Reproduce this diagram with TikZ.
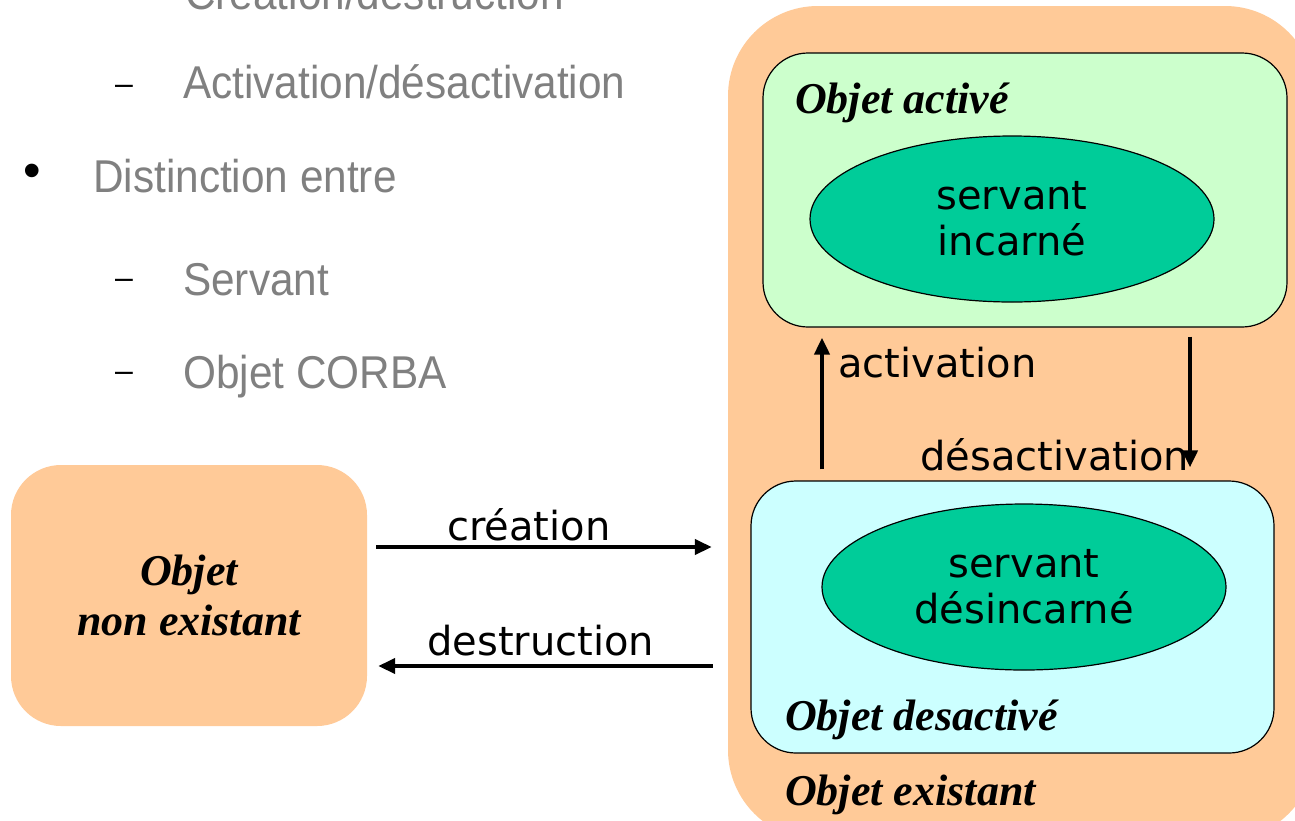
\documentclass[tikz,border=0pt]{standalone}
\usepackage{fontspec}
\newfontfamily\dejavu{DejaVu Sans}
\newfontfamily\grayfont[FakeStretch=0.92]{Liberation Sans}
\newfontfamily\plainsans{Liberation Sans}
\newfontfamily\serifbi{Liberation Serif Bold Italic}
\usetikzlibrary{arrows.meta,calc,shapes.geometric}
\definecolor{orangefill}{HTML}{FFCA98}
\definecolor{greenfill}{HTML}{CCFFCC}
\definecolor{cyanfill}{HTML}{CCFFFF}
\definecolor{tealfill}{HTML}{00CC99}
\definecolor{graytext}{HTML}{808080}
\begin{document}
\begin{tikzpicture}[x=1pt,y=-1pt,
  graytxt/.style={anchor=base west,inner sep=0,text=graytext,font=\grayfont\fontsize{46}{50}\selectfont},
  dashmark/.style={anchor=base west,inner sep=0,font=\plainsans\fontsize{32}{34}\selectfont},
  bulletmark/.style={inner sep=0,font=\plainsans\fontsize{50}{52}\selectfont},
  statebox/.style={draw=black,line width=1.2pt,rounded corners=45,inner sep=0},
  servantell/.style={ellipse,draw=black,line width=1.2pt,fill=tealfill,inner sep=0,align=center,font=\dejavu\fontsize{40}{46}\selectfont},
  statelabel/.style={anchor=base west,inner sep=0,font=\serifbi\fontsize{44}{48}\selectfont},
  arrlabel/.style={anchor=base west,inner sep=0,font=\dejavu\fontsize{40}{46}\selectfont},
  arr/.style={line width=4pt,-{Triangle[length=17pt,width=15pt]}}]
\useasboundingbox (0,0) rectangle (1295,820);
\clip (0,0) rectangle (1295,820);
\fill[white] (0,0) rectangle (1295,820);

% left text
\node[graytxt] (t0) at (185,9) {Création/destruction};
\node[dashmark] (d1) at (115,94) {–};
\node[graytxt] (t1) at (183,98) {Activation/désactivation};
\node[bulletmark] (b1) at (32,176) {•};
\node[graytxt] (t2) at (93,192) {Distinction entre};
\node[dashmark] (d2) at (115,288) {–};
\node[graytxt] (t3) at (183,295) {Servant};
\node[dashmark] (d3) at (115,381) {–};
\node[graytxt] (t4) at (183,388) {Objet CORBA};

% big orange
\node[fill=orangefill,rounded corners=90,inner sep=0,minimum width=587,minimum height=834] (exist) at (1021.5,423) {};
\node[statebox,fill=greenfill,minimum width=524,minimum height=274] (green) at (1025,190) {};
\node[statebox,fill=cyanfill,minimum width=523,minimum height=272] (blue) at (1012.5,617) {};
\node[servantell,minimum width=404,minimum height=166] (e1) at (1012,219) {servant\\incarné};
\node[servantell,minimum width=404,minimum height=166] (e2) at (1024,587) {servant\\désincarné};

\node[statelabel] (l1) at (795,113) {Objet activé};
\node[statelabel] (l2) at (785,730) {Objet desactivé};
\node[statelabel] (l3) at (785,805) {Objet existant};

% left box
\node[fill=orangefill,rounded corners=50,inner sep=0,minimum width=356,minimum height=261,align=center,font=\serifbi\fontsize{44}{50}\selectfont] (nonex) at (189,595.5) {Objet\\non existant};

% arrows
\draw[arr] ($(blue.north)+(-190.5,-11)$) -- ($(green.south)+(-203,10)$);
\draw[arr] ($(green.south)+(165,9)$) -- ($(blue.north)+(177.5,-13)$);
\draw[arr] ($(nonex.east)+(9,-48.5)$) -- ($(exist.west)+(-16,124)$);
\draw[arr] ($(exist.west)+(-15,243)$) -- ($(nonex.east)+(11,70.5)$);

\node[arrlabel] (a1) at (838,377) {activation};
\node[arrlabel] (a2) at (920,470) {désactivation};
\node[arrlabel] (a3) at (447,540) {création};
\node[arrlabel] (a4) at (427,655) {destruction};
\end{tikzpicture}
\end{document}
